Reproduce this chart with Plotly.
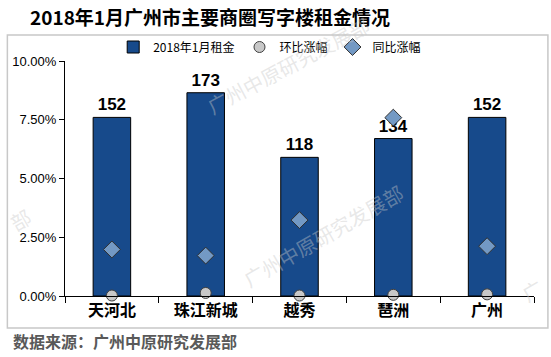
import plotly.graph_objects as go

categories = ["天河北", "珠江新城", "越秀", "琶洲", "广州"]
rent = [152, 173, 118, 134, 152]
mom = [0.0002, 0.0013, 0.0002, 0.0005, 0.0007]
yoy = [0.0198, 0.0172, 0.0323, 0.0759, 0.0212]
yticks = [0, 0.025, 0.05, 0.075, 0.10]

FONT = "Liberation Sans, Arial, Noto Sans CJK SC"
CJK = "Noto Sans CJK SC, Liberation Sans"

fig = go.Figure()
fig.add_trace(go.Bar(
    x=categories, y=rent, name="2018年1月租金", yaxis="y",
    marker=dict(color="#174A8B", line=dict(color="#000000", width=1)),
    text=[str(v) for v in rent], textposition="outside",
    textfont=dict(family=FONT, size=17, color="#000000", weight="bold"),
    cliponaxis=False,
))
fig.add_trace(go.Scatter(
    x=categories, y=mom, name="环比涨幅", yaxis="y2", mode="markers",
    marker=dict(symbol="circle", size=11, color="#C8C8C8", line=dict(color="#404040", width=1)),
    cliponaxis=False,
))
fig.add_trace(go.Scatter(
    x=categories, y=yoy, name="同比涨幅", yaxis="y2", mode="markers",
    marker=dict(symbol="diamond", size=13, color="#7399C4", line=dict(color="#303030", width=1)),
    cliponaxis=False,
))

# plot area: x 62..534, y 61..296
def px(x):
    return (x - 62) / 472
def py(y):
    return (296 - y) / 235

shapes = [dict(type="rect", xref="paper", yref="paper",
               x0=px(4), x1=px(548), y0=py(328), y1=py(35),
               line=dict(color="#C8C8C8", width=1.5), fillcolor="rgba(0,0,0,0)", layer="below")]

wm_color = "rgba(200,200,200,0.42)"
wm_font = dict(family=CJK, size=20, color=wm_color)
def wm(text, x, y, angle):
    return dict(text=text, xref="paper", yref="paper", x=px(x), y=py(y),
                xanchor="center", yanchor="middle", showarrow=False,
                textangle=angle, font=wm_font)

annotations = [
    dict(text="数据来源：广州中原研究发展部", xref="paper", yref="paper",
         x=px(8), y=py(341), xanchor="left", yanchor="middle", showarrow=False,
         font=dict(family=CJK, size=16, color="#595959", weight="bold")),
    wm("广州中原研究发展部", 322, 235, -30),
    wm("广州中原研究发展部", 286, 65, -28),
    wm("部", 17, 219, -30),
    wm("广", 532, 290, -30),
]

fig.update_layout(
    width=551, height=357,
    margin=dict(l=62, r=17, t=61, b=61),
    paper_bgcolor="white", plot_bgcolor="white",
    font=dict(family=FONT, color="#000000"),
    title=dict(text="2018年1月广州市主要商圈写字楼租金情况", x=30/551, xanchor="left",
               xref="container", y=1 - 18/357, yanchor="middle",
               font=dict(family=CJK, size=19, color="#000000", weight="bold")),
    showlegend=True,
    legend=dict(orientation="h", x=px(268), xanchor="center", y=py(47), yanchor="middle",
                font=dict(family=CJK, size=12, color="#000000"), itemwidth=30,
                bgcolor="rgba(0,0,0,0)", traceorder="normal"),
    bargap=0.6,
    xaxis=dict(type="category", showline=True, linecolor="#000000", linewidth=1,
               ticks="outside", tickson="boundaries", ticklen=6, tickcolor="#000000",
               showgrid=False, tickfont=dict(family=CJK, size=16, color="#000000", weight="bold")),
    yaxis=dict(range=[0, 200], visible=False, showgrid=False),
    yaxis2=dict(range=[0, 0.10], overlaying="y", side="left", anchor="x",
                tickvals=yticks, tickformat=".2%", showline=True, linecolor="#000000",
                linewidth=1, ticks="outside", ticklen=5, tickcolor="#000000",
                showgrid=False, zeroline=False,
                tickfont=dict(family=FONT, size=13, color="#000000")),
    shapes=shapes, annotations=annotations,
)

fig.write_html("out.html", config={"displayModeBar": False},
               post_script="document.body.style.margin='0';document.body.style.padding='0';")
